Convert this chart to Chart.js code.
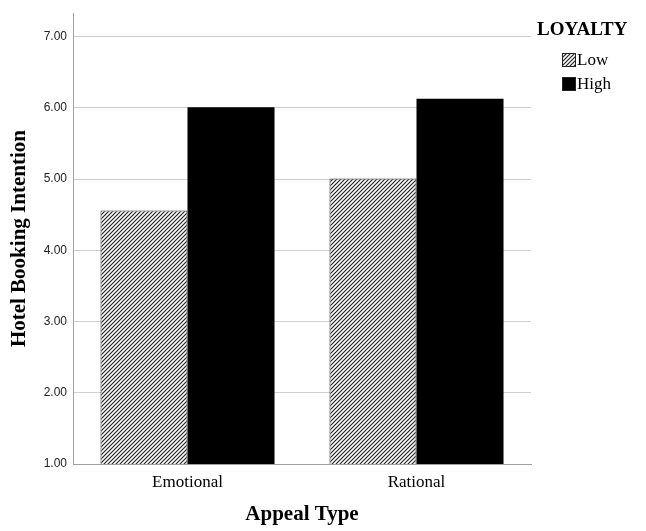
<!DOCTYPE html>
<html>
<head>
<meta charset="utf-8">
<script src="https://cdn.jsdelivr.net/npm/chart.js@4/dist/chart.umd.min.js"></script>
<style>
  html, body { margin: 0; padding: 0; background: #fff; }
  #wrap { width: 646px; height: 531px; position: relative; }
</style>
</head>
<body>
<div id="wrap"><canvas id="chart"></canvas></div>
<script>
// data
const categories = ['Emotional', 'Rational'];
const lowValues = [4.56, 5.01];
const highValues = [6.01, 6.13];
const seriesLabels = ['Low', 'High'];
const yTicks = [1, 2, 3, 4, 5, 6, 7];

const serif = "'Liberation Serif', 'Times New Roman', serif";

// diagonal hatch for the "Low" bars
function makeHatch() {
    const c = document.createElement('canvas');
    c.width = 4; c.height = 4;
    const g = c.getContext('2d');
    g.fillStyle = '#fff';
    g.fillRect(0, 0, 4, 4);
    g.strokeStyle = '#222';
    g.lineWidth = 1.2;
    g.beginPath();
    g.moveTo(-1, 5); g.lineTo(5, -1);
    g.moveTo(-1, 1); g.lineTo(1, -1);
    g.moveTo(3, 5); g.lineTo(5, 3);
    g.stroke();
    return g.createPattern(c, 'repeat');
}
const hatch = makeHatch();

// legend on the right, drawn by hand
const sideLegend = {
    id: 'sideLegend',
    afterDraw(chart) {
        const ctx = chart.ctx;
        ctx.save();
        ctx.fillStyle = '#000';
        ctx.textBaseline = 'middle';
        ctx.font = 'bold 19px ' + serif;
        ctx.fillText('LOYALTY', 537, 30);
        ctx.font = '17px ' + serif;
        chart.data.datasets.forEach((ds, i) => {
            const y = 60 + i * 24;
            ctx.fillStyle = ds.backgroundColor;
            ctx.fillRect(562, y - 7, 14, 14);
            ctx.strokeStyle = '#222';
            ctx.lineWidth = 1;
            ctx.strokeRect(562.5, y - 6.5, 13, 13);
            ctx.fillStyle = '#000';
            ctx.fillText(ds.label, 577, y + 1);
        });
        ctx.restore();
    }
};

new Chart(document.getElementById('chart'), {
    type: 'bar',
    data: {
        labels: categories,
        datasets: [
            { label: seriesLabels[0], data: lowValues, backgroundColor: hatch, borderColor: '#333', borderWidth: 1 },
            { label: seriesLabels[1], data: highValues, backgroundColor: '#000', borderColor: '#000', borderWidth: 0 }
        ]
    },
    options: {
        responsive: true,
        maintainAspectRatio: false,
        animation: false,
        layout: { padding: { left: 0, top: 10, right: 115, bottom: 0 } },
        plugins: { legend: { display: false }, tooltip: { enabled: false } },
        datasets: { bar: { categoryPercentage: 0.76, barPercentage: 1 } },
        scales: {
            x: {
                grid: { display: false, drawTicks: false },
                border: { color: '#a0a0a0', width: 1 },
                ticks: { color: '#000', font: { family: serif, size: 17 }, padding: 8 },
                title: { display: true, text: 'Appeal Type', color: '#000',
                         font: { family: serif, size: 21, weight: 'bold' }, padding: { top: 12 } },
                afterFit(scale) { scale.height = 67; }
            },
            y: {
                min: 1,
                max: 7.33,
                afterBuildTicks(scale) { scale.ticks = yTicks.map(v => ({ value: v })); },
                grid: { color: '#cfcfcf', drawTicks: false },
                border: { color: '#a0a0a0', width: 1 },
                ticks: {
                    color: '#222',
                    font: { family: "'Liberation Sans Narrow', 'Liberation Sans', sans-serif", size: 12 },
                    padding: 6,
                    callback: v => Number(v).toFixed(2)
                },
                title: { display: true, text: 'Hotel Booking Intention', color: '#000',
                         font: { family: serif, size: 21, weight: 'bold' }, padding: { top: 7, bottom: 0 } },
                afterFit(scale) { scale.width = 73; }
            }
        }
    },
    plugins: [sideLegend]
});
</script>
</body>
</html>
